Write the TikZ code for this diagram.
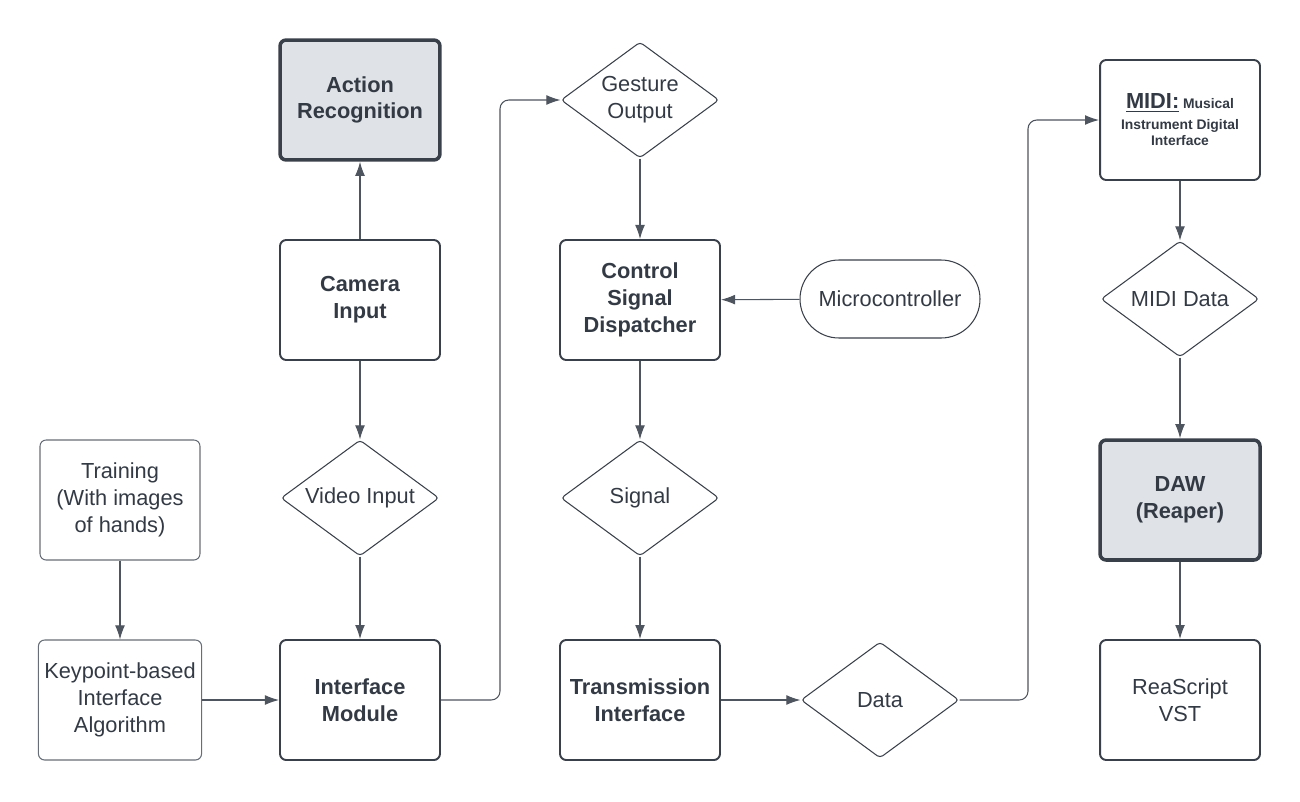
\documentclass[tikz,border=0pt]{standalone}
\usepackage{fontspec}
\setmainfont{Liberation Sans}
\usetikzlibrary{arrows.meta,shapes.geometric}
\definecolor{inkdark}{HTML}{333A44}
\definecolor{boxline}{HTML}{3A4049}
\definecolor{thinline}{HTML}{686E77}
\definecolor{grayfill}{HTML}{DFE2E7}
\definecolor{wireline}{HTML}{4F555E}
\newcommand\flowfont{\fontsize{12.4}{15.2}\selectfont}
\newcommand\tinyflow{\fontsize{7.9}{9.4}\selectfont}

\tikzset{
	flowbox/.style={rectangle, rounded corners=3.5pt, minimum width=3.2cm, minimum height=2.4cm,
		align=center, text=inkdark, draw=boxline, line width=1.1pt, font=\flowfont\bfseries},
	keybox/.style={flowbox, line width=2pt, fill=grayfill},
	plainbox/.style={flowbox, line width=0.6pt, draw=thinline, font=\flowfont},
	choice/.style={diamond, aspect=1.36, rounded corners=2pt, minimum width=3.16cm, minimum height=2.32cm,
		inner sep=0pt, align=center, text=inkdark, draw=boxline, line width=0.6pt, font=\flowfont},
	pill/.style={rectangle, rounded corners=0.78cm, minimum width=3.6cm, minimum height=1.56cm,
		text=inkdark, draw=boxline, line width=0.6pt, font=\flowfont},
	wire/.style={draw=wireline, line width=0.6pt, -{Latex[length=8pt,width=5.6pt]}},
}

\begin{document}
\begin{tikzpicture}[x=0.02cm, y=-0.02cm]
	%%%%% START %%%%%
	\useasboundingbox (0,0) rectangle (1300,801);

	% left column
	\node[plainbox] (training) at (120,500) {Training\\(With images\\of hands)};
	\node[plainbox] (keypoint) at (120,700) {Keypoint-based\\Interface\\Algorithm};

	% camera column
	\node[keybox] (action) at (360,100) {Action\\Recognition};
	\node[flowbox] (camera) at (360,300) {Camera\\Input};
	\node[choice] (video) at (360,498) {Video Input};
	\node[flowbox] (iface) at (360,700) {Interface\\Module};

	% dispatch column
	\node[choice] (gesture) at (640,100) {Gesture\\Output};
	\node[flowbox] (control) at (640,300) {Control\\Signal\\Dispatcher};
	\node[pill] (micro) at (890,299) {Microcontroller};
	\node[choice] (signal) at (640,498) {Signal};
	\node[flowbox] (transmit) at (640,700) {Transmission\\Interface};
	\node[choice] (data) at (880,700) {Data};

	% daw column
	\node[flowbox, font=\tinyflow\bfseries] (midi) at (1180,120) {{\flowfont\underline{MIDI:}} Musical\\[2.2pt]Instrument Digital\\Interface};
	\node[choice] (mididata) at (1180,299) {MIDI Data};
	\node[keybox] (daw) at (1180,500) {DAW\\(Reaper)};
	\node[flowbox, font=\flowfont] (rea) at (1180,700) {ReaScript\\VST};

	% connectors
	\draw[wire] (camera) -- (action);
	\draw[wire] (camera) -- (video);
	\draw[wire] (video) -- (iface);
	\draw[wire] (training) -- (keypoint);
	\draw[wire] (keypoint) -- (iface);
	\draw[wire, rounded corners=5pt] (iface.east) -- (500,700) -- (500,100) -- (gesture.west);
	\draw[wire] (gesture) -- (control);
	\draw[wire] (micro) -- (control);
	\draw[wire] (control) -- (signal);
	\draw[wire] (signal) -- (transmit);
	\draw[wire] (transmit) -- (data);
	\draw[wire, rounded corners=5pt] (data.east) -- (1028,700) -- (1028,120) -- (midi.west);
	\draw[wire] (midi) -- (mididata);
	\draw[wire] (mididata) -- (daw);
	\draw[wire] (daw) -- (rea);
	%%%%% END %%%%%
\end{tikzpicture}
\end{document}
